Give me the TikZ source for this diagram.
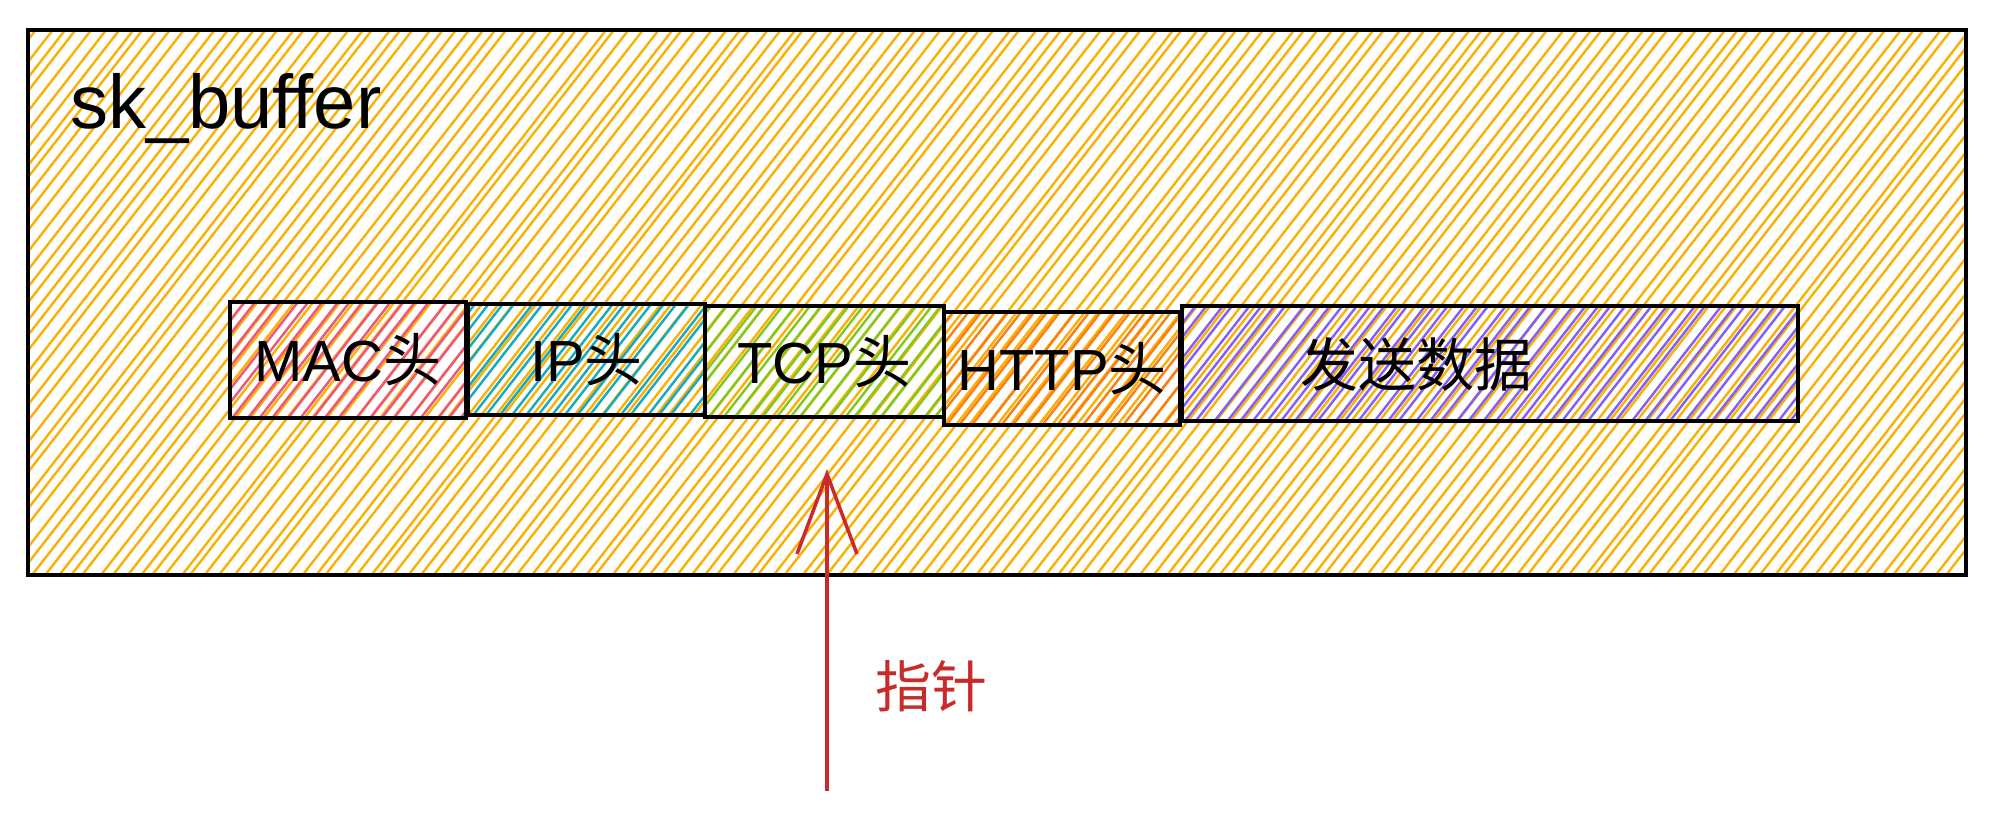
\documentclass[tikz,border=0pt]{standalone}
\usepackage{fontspec}
\setmainfont{Liberation Sans}
\newfontfamily\cjk{Noto Sans CJK SC}
\usetikzlibrary{arrows.meta}
\definecolor{hyellow}{HTML}{FAB005}
\definecolor{hpink}{HTML}{F0567A}
\definecolor{hcyan}{HTML}{15AABF}
\definecolor{hgreen}{HTML}{82C91E}
\definecolor{horange}{HTML}{FD7E14}
\definecolor{hviolet}{HTML}{845EF7}
\definecolor{pred}{HTML}{C92A2A}
\tikzset{
  hatch/.style={path picture={
    \foreach \i in {-60,...,150}{
      \draw[#1,line width=2.4pt,line cap=round]
        ([xshift=\i*13.5pt+rnd*6pt]path picture bounding box.south west) -- ++(700pt,900pt);
    }}},
  outerbox/.style={draw=black,line width=3.8pt,rectangle,inner sep=0pt},
  seg/.style={draw=black,line width=3.8pt,rectangle,inner sep=0pt,
    font=\fontsize{58}{70}\selectfont},
  lbl/.style={inner sep=0pt,font=\fontsize{58}{70}\selectfont},
  pointer/.style={pred,line width=3.5pt,
    -{Straight Barb[length=80pt,width=60pt,line width=3.5pt]}},
}
\begin{document}
\begin{tikzpicture}[x=1pt,y=-1pt]
\pgfmathsetseed{7}
\useasboundingbox (0,0) rectangle (2000,823);
\fill[white] (0,0) rectangle (2000,823);
% outer buffer
\node[outerbox,hatch=hyellow,minimum width=1938pt,minimum height=545pt] (buf) at (997,302.5) {};
\node[anchor=base west,inner sep=0pt,font=\fontsize{76}{90}\selectfont] (title) at (70,128) {sk\_buffer};
% segments
\node[seg,hatch=hpink,minimum width=236pt,minimum height=116pt] (mac) at (348,360) {MAC{\cjk 头}};
\node[seg,hatch=hcyan,minimum width=237pt,minimum height=111pt] (ip) at (586.5,359.5) {IP{\cjk 头}};
\node[seg,hatch=hgreen,minimum width=239pt,minimum height=111pt] (tcp) at (824.5,361.5) {TCP{\cjk 头}};
\node[seg,hatch=horange,minimum width=236pt,minimum height=113pt] (http) at (1062,368.5) {HTTP{\cjk 头}};
\node[seg,hatch=hviolet,minimum width=616pt,minimum height=115pt] (data) at (1490,363.5) {};
\node[lbl] (datat) at (1416,364) {\cjk 发送数据};
% pointer
\coordinate (ptail) at (827,791);
\coordinate (phead) at (827,469);
\draw[pointer] (ptail) -- (phead);
\node[text=pred,inner sep=0pt,font=\cjk\fontsize{56}{60}\selectfont] (ptr) at (931,686) {指针};
\end{tikzpicture}
\end{document}
